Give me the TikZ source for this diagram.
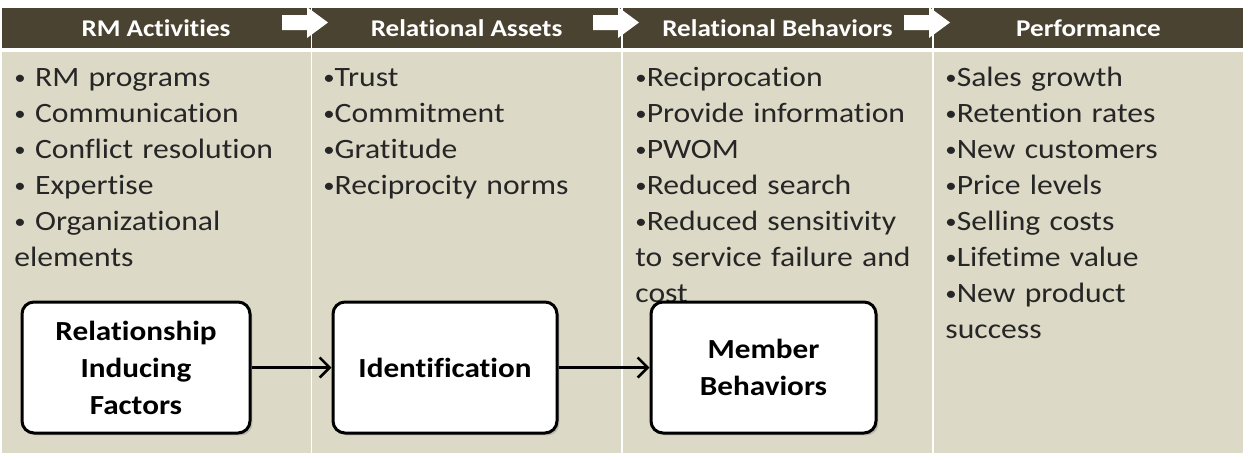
\documentclass[tikz,border=0pt]{standalone}
\usepackage{fontspec}
\setmainfont[FakeStretch=1.13,Ligatures=NoCommon]{Carlito}
\usetikzlibrary{positioning,arrows.meta,shadows}
\definecolor{RMOlive}{HTML}{4A4331}
\definecolor{RMSand}{HTML}{DCD9C6}
\definecolor{RMInk}{HTML}{262626}
\newcommand{\rmdot}{\raisebox{0.12ex}{\scalebox{0.72}{•}}}
\tikzset{
  rmHead/.style={
    fill=RMOlive,
    text=white,
    font=\bfseries\fontsize{12pt}{14pt}\selectfont,
    minimum width=154.5pt,
    minimum height=20pt,
    inner sep=0pt
  },
  rmCell/.style={
    fill=RMSand,
    minimum width=154.5pt,
    minimum height=200.5pt,
    inner sep=0pt
  },
  rmList/.style={
    anchor=base west,
    text=RMInk,
    font=\fontsize{14pt}{18pt}\selectfont,
    text width=150pt,
    align=left,
    inner sep=0pt
  },
  rmFlag/.style={
    fill=white,
    draw=none
  },
  rmBox/.style={
    draw=black,
    fill=white,
    line width=1.5pt,
    rounded corners=6pt,
    align=center,
    font=\bfseries\fontsize{13.8pt}{18.5pt}\selectfont,
    minimum height=65.5pt,
    inner sep=2pt,
    drop shadow={shadow xshift=1.2pt, shadow yshift=-1.2pt, opacity=0.35}
  },
  rmArrow/.style={
    line width=1.3pt,
    color=black,
    -{Straight Barb[length=5pt,width=10pt]}
  }
}

\begin{document}
\begin{tikzpicture}[x=0.5pt, y=-0.5pt]
        \useasboundingbox (0,0) rectangle (1248,462);

        \node (hd1) [rmHead] at (156,28) {RM Activities};
        \node (hd2) [rmHead] at (466.5,28) {Relational Assets};
        \node (hd3) [rmHead] at (777.5,28) {Relational Behaviors};
        \node (hd4) [rmHead] at (1088.5,28) {Performance};

        \node (cell1) [rmCell] at (156,252.5) {};
        \node (cell2) [rmCell] at (466.5,252.5) {};
        \node (cell3) [rmCell] at (777.5,252.5) {};
        \node (cell4) [rmCell] at (1088.5,252.5) {};

        \foreach \s in {311,622,933}
          \fill [rmFlag] (\s-29,15) -- (\s-4,15) -- (\s-4,7) -- (\s+17,22.5)
            -- (\s-4,38) -- (\s-4,30) -- (\s-29,30) -- cycle;

        \node (list1) [rmList] at (14,86) {
          \rmdot{} RM programs\\
          \rmdot{} Communication\\
          \rmdot{} Conflict resolution\\
          \rmdot{} Expertise\\
          \rmdot{} Organizational\\
          elements
        };
        \node (list2) [rmList] at (323,86) {
          \rmdot Trust\\
          \rmdot Commitment\\
          \rmdot Gratitude\\
          \rmdot Reciprocity norms
        };
        \node (list3) [rmList] at (635,86) {
          \rmdot Reciprocation\\
          \rmdot Provide information\\
          \rmdot PWOM\\
          \rmdot Reduced search\\
          \rmdot Reduced sensitivity\\
          to service failure and\\
          cost
        };
        \node (list4) [rmList] at (945,86) {
          \rmdot Sales growth\\
          \rmdot Retention rates\\
          \rmdot New customers\\
          \rmdot Price levels\\
          \rmdot Selling costs\\
          \rmdot Lifetime value\\
          \rmdot New product\\
          success
        };

        \node (rif) [rmBox, minimum width=114pt] at (136,367.5) {Relationship\\Inducing\\Factors};
        \node (ident) [rmBox, minimum width=112pt, right=40pt of rif] {Identification};
        \node (member) [rmBox, minimum width=112.5pt, right=45.5pt of ident] {Member\\Behaviors};

        \draw [rmArrow] (rif) -- (ident);
        \draw [rmArrow] (ident) -- (member);
      \end{tikzpicture}
\end{document}
